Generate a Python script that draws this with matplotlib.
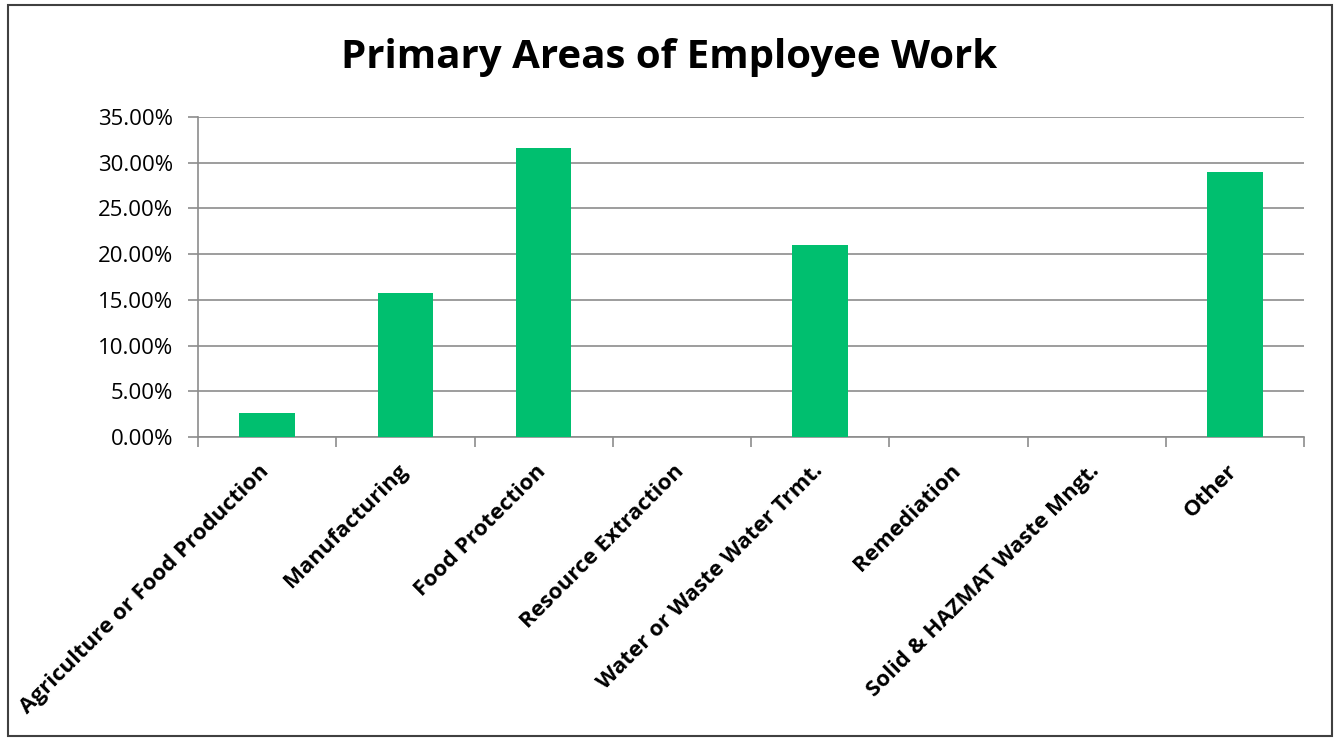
import matplotlib
matplotlib.use("Agg")
import matplotlib.pyplot as plt
from matplotlib.patches import Rectangle
from matplotlib.ticker import FuncFormatter, MultipleLocator
from matplotlib.transforms import ScaledTranslation

title = "Primary Areas of Employee Work"
categories = [
    "Agriculture or Food Production",
    "Manufacturing",
    "Food Protection",
    "Resource Extraction",
    "Water or Waste Water Trmt.",
    "Remediation",
    "Solid & HAZMAT Waste Mngt.",
    "Other",
]
shares = [2.63, 15.79, 31.58, 0.0, 21.05, 0.0, 0.0, 28.95]

bar_color = "#00BF6F"
grid_color = "#8C8C8C"

plt.rcParams["font.family"] = ["Open Sans", "DejaVu Sans"]

fig = plt.figure(figsize=(13.38, 7.38), dpi=100)
ax = fig.add_axes([0.148, 0.4079, 0.8266, 0.4336])

x = list(range(len(categories)))
ax.bar(x, shares, width=0.4, color=bar_color, zorder=3)

ax.set_xlim(-0.5, len(categories) - 0.5)
ax.set_ylim(0, 35)
ax.yaxis.set_major_locator(MultipleLocator(5))
ax.yaxis.set_major_formatter(FuncFormatter(lambda v, _: f"{v:.2f}%"))
ax.grid(axis="y", color=grid_color, linewidth=1.2, zorder=0)

for side in ("top", "right"):
    ax.spines[side].set_visible(False)
for side in ("left", "bottom"):
    ax.spines[side].set_color(grid_color)
    ax.spines[side].set_linewidth(1.2)

ax.tick_params(axis="y", length=7, color=grid_color, width=1.2, labelsize=16, pad=11)
# category boundaries carry the x tick marks
ax.set_xticks([i - 0.5 for i in range(len(categories) + 1)], minor=False)
ax.set_xticklabels([])
ax.tick_params(axis="x", which="major", length=7, color=grid_color, width=1.2)
ax.set_xticks(x, minor=True)
ax.set_xticklabels(categories, minor=True, rotation=45, ha="right", va="top",
                   rotation_mode="anchor", fontsize=16, fontweight="bold")
ax.tick_params(axis="x", which="minor", length=0, pad=17)
shift = ScaledTranslation(-6 / 72, 0, fig.dpi_scale_trans)
for lbl in ax.get_xticklabels(minor=True):
    lbl.set_transform(lbl.get_transform() + shift)

fig.text(0.5, 0.922, title, ha="center", va="center", fontsize=29, fontweight="bold")

fig.patches.append(Rectangle((0.006, 0.0027), 0.9895, 0.9905, transform=fig.transFigure,
                             fill=False, edgecolor="#404040", linewidth=1.5))

fig.savefig("out.png", dpi=100)
